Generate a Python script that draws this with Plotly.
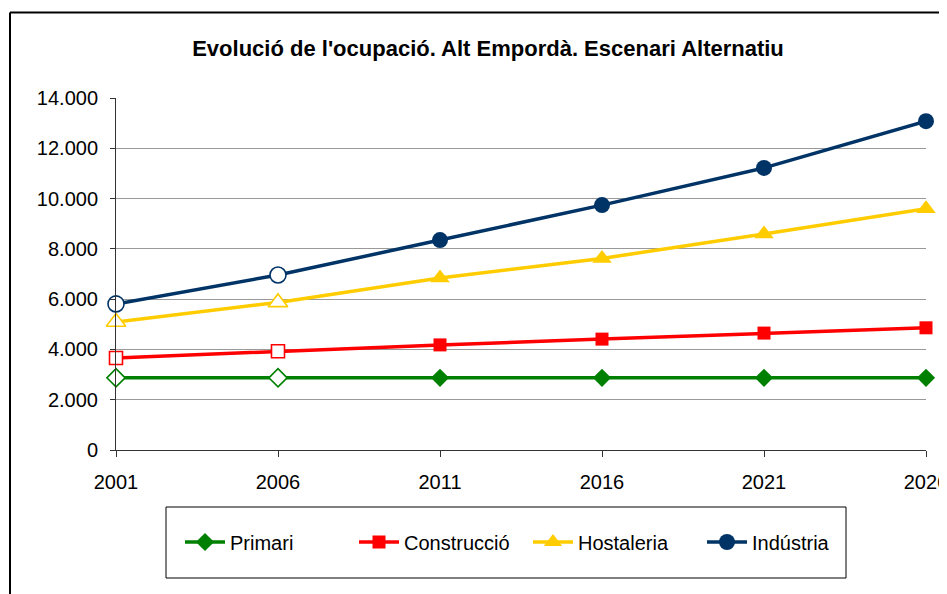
import plotly.graph_objects as go

years = [2001, 2006, 2011, 2016, 2021, 2026]
primari = [2870, 2870, 2870, 2870, 2870, 2870]
construccio = [3660, 3930, 4180, 4410, 4650, 4860]
hostaleria = [5090, 5870, 6840, 7620, 8590, 9600]
industria = [5810, 6960, 8350, 9740, 11220, 13080]
y_ticks = [0, 2000, 4000, 6000, 8000, 10000, 12000, 14000]
x_ticks = years

series = [
    ("Primari", primari, "#008000", "diamond", 14),
    ("Construcció", construccio, "#FF0000", "square", 13),
    ("Hostaleria", hostaleria, "#FFCC00", "triangle-up", 17),
    ("Indústria", industria, "#003366", "circle", 16),
]

fig = go.Figure()
for name, vals, color, sym, size in series:
    fig.add_trace(go.Scatter(
        x=years, y=vals, name=name, mode="lines+markers",
        line=dict(color=color, width=3.5),
        marker=dict(symbol=sym, size=size, color=color),
        cliponaxis=False,
    ))
# open (hollow) markers for the first two observed years
for name, vals, color, sym, size in series:
    fig.add_trace(go.Scatter(
        x=years[:2], y=vals[:2], mode="markers", showlegend=False,
        marker=dict(symbol=sym, size=size, color="white",
                    line=dict(color=color, width=1.6)),
        cliponaxis=False, hoverinfo="skip",
    ))

OFF = 8  # default page body margin
W, H = 947, 586
L, R, T, B = 116 - OFF, 926 - OFF, 98 - OFF, 450 - OFF
pw, ph = R - L, B - T

def px(x):
    return (x - OFF - L) / pw

def py(y):
    return (B - (y - OFF)) / ph

fig.update_layout(
    width=W, height=H,
    margin=dict(l=L, r=W - R, t=T, b=H - B, pad=0, autoexpand=False),
    paper_bgcolor="white", plot_bgcolor="white",
    separators=",.",
    font=dict(family="Liberation Sans, Arial, sans-serif", size=20, color="black"),
    title=dict(text="<b>Evolució de l'ocupació. Alt Empordà. Escenari Alternatiu</b>",
               x=(488 - OFF) / W, xanchor="center", y=1 - (48 - OFF) / H, yanchor="middle",
               font=dict(size=22, color="black")),
    xaxis=dict(range=[2001, 2026], tickvals=x_ticks, ticktext=[str(v) for v in x_ticks],
               showgrid=False, showline=True, linecolor="#333333", linewidth=1,
               ticks="outside", ticklen=6, tickcolor="#333333", zeroline=False,
               ticklabeloverflow="allow", ticklabelstandoff=8, automargin=False,
               tickfont=dict(size=20)),
    yaxis=dict(range=[0, 14000], tickvals=y_ticks, tickformat=",d",
               showgrid=True, gridcolor="#999999", gridwidth=1,
               showline=True, linecolor="#333333", linewidth=1,
               ticks="outside", ticklen=5, tickcolor="#333333", zeroline=False,
               ticklabelstandoff=8, automargin=False,
               tickfont=dict(size=20)),
    legend=dict(orientation="h", x=px(180), xanchor="left", y=py(542), yanchor="middle",
                font=dict(size=20), bgcolor="rgba(0,0,0,0)", borderwidth=0,
                itemwidth=40, entrywidth=119, entrywidthmode="pixels"),
    showlegend=True,
    shapes=[
        dict(type="rect", xref="paper", yref="paper",
             x0=px(166), x1=px(846), y0=py(507), y1=py(578),
             line=dict(color="black", width=1), fillcolor="rgba(0,0,0,0)", layer="below"),
        dict(type="line", xref="paper", yref="paper",
             x0=px(10), x1=px(960), y0=py(12.5), y1=py(12.5),
             line=dict(color="black", width=2)),
        dict(type="line", xref="paper", yref="paper",
             x0=px(10), x1=px(10), y0=py(12.5), y1=py(620),
             line=dict(color="black", width=2)),
    ],
)

fig.write_html("out.html")
